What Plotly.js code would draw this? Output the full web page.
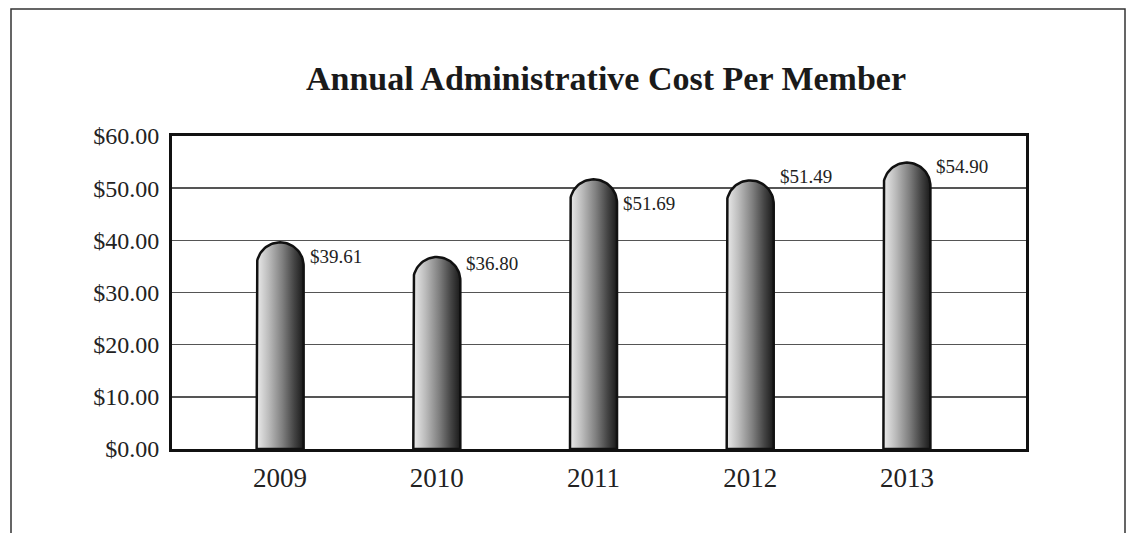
<!DOCTYPE html>
<html>
<head>
<meta charset="utf-8">
<script src="https://cdn.plot.ly/plotly-3.0.1.min.js"></script>
<style>
  html, body { margin: 0; padding: 0; background: #ffffff; }
  #chart { width: 1129px; height: 533px; }
</style>
</head>
<body>
<div id="chart"></div>
<script>
// ---- data ----
const years = ["2009", "2010", "2011", "2012", "2013"];
const costs = [39.61, 36.80, 51.69, 51.49, 54.90];
const yTicks = [0, 10, 20, 30, 40, 50, 60];

// ---- style (not data) ----
const labelYShift = [-14, -6, -24, 4, -4];   // px offsets of value labels
const halfW = 0.15;        // bar half width (x units)
const plotL = 172, plotR = 103, plotT = 136, plotB = 84;
const W = 1129, H = 533;
const xRange = [-0.69, 4.76];
const yRange = [0, 60];

// radius of the rounded cap in y units, so that cap is a true semicircle in pixels
const pxPerX = (W - plotL - plotR) / (xRange[1] - xRange[0]);
const pxPerY = (H - plotT - plotB) / (yRange[1] - yRange[0]);
const capR = halfW * pxPerX / pxPerY;

const traces = years.map((yr, i) => {
  const v = costs[i];
  const xs = [], ys = [];
  xs.push(i - halfW); ys.push(0);
  xs.push(i - halfW); ys.push(v - capR);
  const n = 40;
  for (let k = 0; k <= n; k++) {
    const t = Math.PI - Math.PI * k / n;
    xs.push(i + halfW * Math.cos(t));
    ys.push(v - capR + capR * Math.sin(t));
  }
  xs.push(i + halfW); ys.push(0);
  xs.push(i - halfW); ys.push(0);
  return {
    type: "scatter",
    mode: "lines",
    x: xs, y: ys,
    fill: "toself",
    fillgradient: {
      type: "horizontal",
      colorscale: [[0, "#ebebeb"], [0.25, "#bdbdbd"], [0.55, "#7f7f7f"], [0.8, "#444444"], [1, "#1a1a1a"]]
    },
    line: { color: "#111111", width: 2.5 },
    hoverinfo: "skip",
    showlegend: false
  };
});

const annotations = years.map((yr, i) => ({
  x: i + halfW, y: costs[i],
  xref: "x", yref: "y",
  text: "$" + costs[i].toFixed(2),
  showarrow: false,
  xanchor: "left", yanchor: "middle",
  xshift: 4, yshift: labelYShift[i],
  font: { family: "Liberation Serif, Times New Roman, serif", size: 19, color: "#222222" }
}));

const plotW = W - plotL - plotR, plotH = H - plotT - plotB;
const layout = {
  width: W, height: H,
  margin: { l: plotL, r: plotR, t: plotT, b: plotB },
  paper_bgcolor: "#ffffff",
  plot_bgcolor: "#ffffff",
  title: {
    text: "<b>Annual Administrative Cost Per Member</b>",
    xref: "container", yref: "container",
    x: 606 / W, y: 1 - 78 / H,
    xanchor: "center", yanchor: "middle",
    font: { family: "Liberation Serif, Times New Roman, serif", size: 34, color: "#1a1a1a" }
  },
  xaxis: {
    range: xRange,
    tickmode: "array",
    tickvals: years.map((y, i) => i),
    ticktext: years,
    showgrid: false,
    zeroline: false,
    showline: true, mirror: true,
    linecolor: "#111111", linewidth: 3,
    ticks: "",
    ticklabelstandoff: 3,
    tickfont: { family: "Liberation Serif, Times New Roman, serif", size: 27, color: "#222222" },
    fixedrange: true
  },
  yaxis: {
    range: yRange,
    tickmode: "array",
    tickvals: yTicks,
    ticktext: yTicks.map(v => "$" + v.toFixed(2)),
    showgrid: true,
    gridcolor: "#555555", gridwidth: 1.5,
    zeroline: false,
    showline: true, mirror: true,
    linecolor: "#111111", linewidth: 3,
    ticks: "",
    ticklabelstandoff: 5,
    tickfont: { family: "Liberation Serif, Times New Roman, serif", size: 24, color: "#222222" },
    fixedrange: true
  },
  shapes: [{
    type: "rect", xref: "paper", yref: "paper",
    x0: (11 - plotL) / plotW, x1: (1125 - plotL) / plotW,
    y0: (H - plotB - 560) / plotH, y1: (H - plotB - 9) / plotH,
    line: { color: "#333333", width: 1.5 },
    fillcolor: "rgba(0,0,0,0)",
    layer: "below"
  }],
  annotations: annotations,
  showlegend: false
};

Plotly.newPlot("chart", traces, layout, { displayModeBar: false, staticPlot: true });
</script>
</body>
</html>
